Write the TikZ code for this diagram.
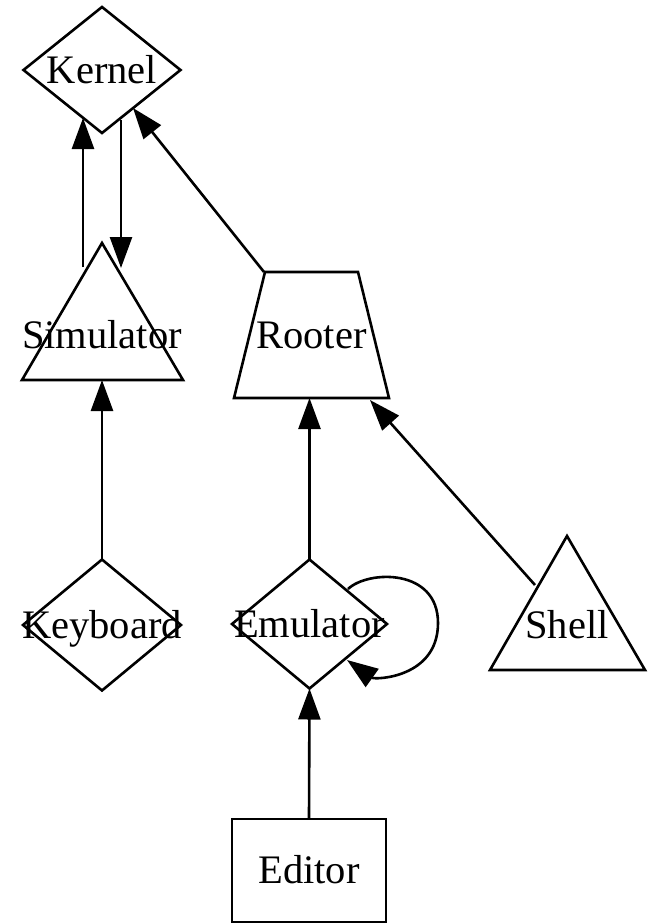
\documentclass[tikz,border=0pt]{standalone}
\usepackage{fontspec}
\setmainfont{Liberation Serif}
\usetikzlibrary{shapes.geometric,arrows.meta,calc}
\begin{document}
\begin{tikzpicture}[x=1pt,y=-1pt,
  font=\fontsize{40.5}{48}\selectfont,
  lw/.style={line width=2.6pt},
  shp/.style={draw,lw,inner sep=0pt,outer sep=0pt},
  lbl/.style={inner sep=0pt,outer sep=0pt,text height=26.7pt,text depth=0pt},
  every label/.style={lbl},
  dmd/.style={shp,diamond},
  conn/.style={lw,-{Triangle[length=31pt,width=22pt]}},
]
\useasboundingbox (0,0) rectangle (648,924);

% nodes
\node[dmd,minimum width=157pt,minimum height=126pt,label=center:Kernel] (kernel) at (102,70) {};
\node[lbl] (sim) at (102,335) {Simulator};
\draw[lw] ($(sim)+(0,-92)$) -- ($(sim)+(-80,45)$) -- ($(sim)+(81,45)$) -- cycle;
\node[lbl] (rooter) at (311.5,335) {Rooter};
\draw[lw] ($(rooter)+(-46.5,-63)$) -- ($(rooter)+(46.5,-63)$) -- ($(rooter)+(77.5,63)$) -- ($(rooter)+(-77.5,63)$) -- cycle;
\node[dmd,minimum width=158pt,minimum height=131pt,label=center:Keyboard] (keyboard) at (102,625) {};
\node[dmd,minimum width=155pt,minimum height=129pt,label=center:Emulator] (emu) at (309.5,624) {};
\node[lbl] (shell) at (567,625) {Shell};
\draw[lw] ($(shell)+(0,-89)$) -- ($(shell)+(-77,45)$) -- ($(shell)+(78,45)$) -- cycle;
\node[shp,rectangle,minimum width=154pt,minimum height=103pt,label=center:Editor] (editor) at (309,870.5) {};

% connectors
\draw[conn] ($(sim)+(-19,-68)$) -- ($(kernel)+(-19,48)$);
\draw[conn] ($(kernel)+(19,50)$) -- ($(sim)+(19,-67)$);
\draw[conn] ($(rooter)+(-47.5,-63)$) -- ($(kernel)+(31,38)$);
\draw[conn] (keyboard.north) -- ($(sim)+(0,45)$);
\draw[conn] (emu.north) -- ($(rooter)+(-2,63)$);
\draw[conn] ($(shell)+(-32,-40)$) -- ($(rooter)+(58.5,65)$);
\draw[conn] ($(emu)+(38.5,-35)$) .. controls ($(emu)+(58.5,-54)$) and ($(emu)+(128.5,-56)$) .. ($(emu)+(128.5,-1)$)
  .. controls ($(emu)+(128.5,54)$) and ($(emu)+(65.5,56)$) .. ($(emu)+(37.5,36)$);
\draw[conn] (editor.north) -- (emu.south);
\end{tikzpicture}
\end{document}
